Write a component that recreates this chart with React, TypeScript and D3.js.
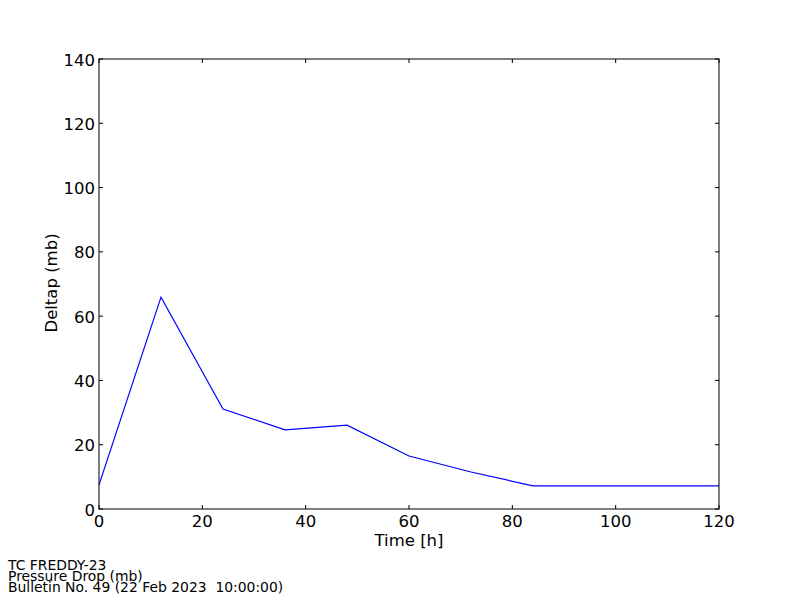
import React from 'react';
import * as d3 from 'd3';

// forecast lead time (h) and pressure drop (mb)
const hours = [0, 12, 24, 36, 48, 60, 72, 84, 96, 108, 120];
const deltap = [7.5, 65.9, 31.1, 24.6, 26.1, 16.5, 11.5, 7.2, 7.2, 7.2, 7.2];
const xTicks = [0, 20, 40, 60, 80, 100, 120];
const yTicks = [0, 20, 40, 60, 80, 100, 120, 140];
const footer = ['TC FREDDY-23', 'Pressure Drop (mb)', 'Bulletin No. 49 (22 Feb 2023  10:00:00)'];

const W = 800;
const H = 600;
const left = 99, right = 719, top = 59, bottom = 509;
const font = 'DejaVu Sans, sans-serif';
const fs = 16.5;

export default function App() {
  const x = d3.scaleLinear().domain([0, 120]).range([left, right]);
  const y = d3.scaleLinear().domain([0, 140]).range([bottom, top]);

  const line = d3.line<number>()
    .x((_, i) => x(hours[i]))
    .y(d => y(d));

  const tl = 4; // inward ticks on all four sides

  return (
    <svg width={W} height={H} style={{ position: 'fixed', left: 0, top: 0, background: '#fff' }}>
      <rect x={0} y={0} width={W} height={H} fill="#fff" />
      <path d={line(deltap) || ''} fill="none" stroke="#0000ff" strokeWidth={1.2} />

      {/* frame */}
      <rect x={left} y={top} width={right - left} height={bottom - top} fill="none" stroke="#000" strokeWidth={1} />

      {/* ticks */}
      {xTicks.map(t => (
        <g key={'x' + t}>
          <line x1={x(t)} x2={x(t)} y1={bottom} y2={bottom - tl} stroke="#000" />
          <line x1={x(t)} x2={x(t)} y1={top} y2={top + tl} stroke="#000" />
          <text x={x(t)} y={527} textAnchor="middle" fontFamily={font} fontSize={fs}>{t}</text>
        </g>
      ))}
      {yTicks.map(t => (
        <g key={'y' + t}>
          <line x1={left} x2={left + tl} y1={y(t)} y2={y(t)} stroke="#000" />
          <line x1={right} x2={right - tl} y1={y(t)} y2={y(t)} stroke="#000" />
          <text x={left - 4} y={y(t) + 6.5} textAnchor="end" fontFamily={font} fontSize={fs}>{t}</text>
        </g>
      ))}

      {/* axis labels */}
      <text x={(left + right) / 2} y={546} textAnchor="middle" fontFamily={font} fontSize={fs}>Time [h]</text>
      <text transform={`translate(56.5,${(top + bottom) / 2 - 1}) rotate(-90)`} textAnchor="middle" fontFamily={font} fontSize={fs}>Deltap (mb)</text>

      {/* footer, tightly stacked as in the original */}
      {footer.map((s, i) => (
        <text key={s} x={8} y={570 + i * 11} fontFamily={font} fontSize={13.9} style={{ whiteSpace: 'pre' }}>{s}</text>
      ))}
    </svg>
  );
}
